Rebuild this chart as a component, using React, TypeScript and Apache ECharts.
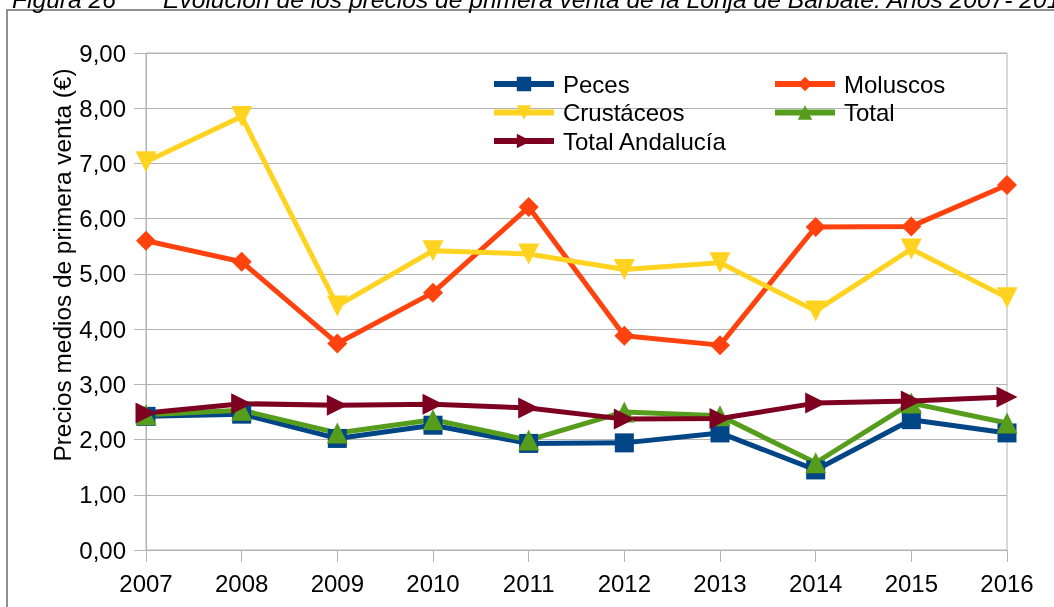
import React, { useEffect, useRef } from "react";
import * as echarts from "echarts";

const years = ["2007", "2008", "2009", "2010", "2011", "2012", "2013", "2014", "2015", "2016"];
const peces = [2.42, 2.46, 2.02, 2.26, 1.93, 1.94, 2.12, 1.45, 2.36, 2.12];
const moluscos = [5.6, 5.22, 3.74, 4.66, 6.21, 3.88, 3.71, 5.85, 5.86, 6.61];
const crustaceos = [7.03, 7.85, 4.42, 5.42, 5.36, 5.08, 5.2, 4.33, 5.45, 4.57];
const total = [2.45, 2.53, 2.12, 2.36, 1.99, 2.5, 2.43, 1.58, 2.66, 2.3];
const andalucia = [2.48, 2.65, 2.62, 2.64, 2.57, 2.37, 2.38, 2.66, 2.7, 2.77];

const titleNum = "Figura 26";
const titleText = "Evolución de los precios de primera venta de la Lonja de Barbate. Años 2007- 2016";
const yName = "Precios medios de primera venta (€)";

const FONT = "'Liberation Sans', Arial, sans-serif";

export default function App() {
  const ref = useRef<HTMLDivElement>(null);
  useEffect(() => {
    if (!ref.current) return;
    const chart = echarts.init(ref.current, null, { renderer: "svg" });
    const mk = (name: string, data: number[], color: string, symbol: string, rot = 0, size = 20) => ({
      name,
      type: "line",
      data,
      symbol,
      symbolSize: size,
      symbolRotate: rot,
      lineStyle: { color, width: 5 },
      itemStyle: { color },
      emphasis: { disabled: true },
    });
    const legendBase = {
      orient: "vertical",
      top: 72,
      padding: 0,
      itemWidth: 60,
      itemHeight: 18,
      itemGap: 4.5,
      lineStyle: { width: 6 },
      textStyle: { fontSize: 24, color: "#000", fontFamily: FONT, padding: [0, 0, 0, 4] },
      selectedMode: false,
    };
    chart.setOption({
      animation: false,
      textStyle: { fontFamily: FONT },
      graphic: [
        {
          type: "rect",
          shape: { x: 7, y: 10, width: 1200, height: 800 },
          style: { fill: "none", stroke: "#6e6e6e", lineWidth: 1.5 },
          silent: true,
        },
        {
          type: "text",
          x: 12,
          y: 12,
          style: { text: titleNum, font: `italic 24.6px ${FONT}`, fill: "#000", verticalAlign: "bottom" },
        },
        {
          type: "text",
          x: 163,
          y: 12,
          style: { text: titleText, font: `italic 24.6px ${FONT}`, fill: "#000", verticalAlign: "bottom" },
        },
        {
          type: "text",
          x: 62,
          y: 265,
          rotation: Math.PI / 2,
          style: {
            text: yName,
            font: `24.4px ${FONT}`,
            fill: "#000",
            align: "center",
            verticalAlign: "middle",
          },
        },
      ],
      grid: {
        left: 146,
        right: 47,
        top: 53,
        bottom: 57,
        show: true,
        borderColor: "#b3b3b3",
        borderWidth: 1,
        containLabel: false,
      },
      legend: [
        { ...legendBase, left: 491, data: ["Peces", "Crustáceos", "Total Andalucía"] },
        { ...legendBase, left: 772, data: ["Moluscos", "Total"] },
      ],
      xAxis: {
        type: "category",
        data: years,
        boundaryGap: false,
        axisLine: { lineStyle: { color: "#b3b3b3" } },
        axisTick: { show: true, length: 12, lineStyle: { color: "#b3b3b3" } },
        axisLabel: { color: "#000", fontSize: 24, margin: 21, fontFamily: FONT },
        splitLine: { show: false },
      },
      yAxis: {
        type: "value",
        min: 0,
        max: 9,
        interval: 1,
        axisLine: { show: true, lineStyle: { color: "#b3b3b3" } },
        axisTick: { show: true, length: 12, lineStyle: { color: "#b3b3b3" } },
        axisLabel: {
          color: "#000",
          fontSize: 24,
          margin: 20,
          fontFamily: FONT,
          formatter: (v: number) => v.toFixed(2).replace(".", ","),
        },
        splitLine: { show: true, lineStyle: { color: "#b3b3b3", width: 1 } },
      },
      series: [
        mk("Peces", peces, "#004586", "rect", 0, 19),
        mk("Moluscos", moluscos, "#ff420e", "diamond", 0, 20),
        mk("Crustáceos", crustaceos, "#ffd320", "triangle", 180, 21),
        mk("Total", total, "#579d1c", "triangle", 0, 21),
        mk("Total Andalucía", andalucia, "#7e0021", "triangle", -90, 21),
      ],
    });
    return () => chart.dispose();
  }, []);
  return (
    <div
      ref={ref}
      style={{ position: "fixed", left: 0, top: 0, width: 1054, height: 607 }}
    />
  );
}
